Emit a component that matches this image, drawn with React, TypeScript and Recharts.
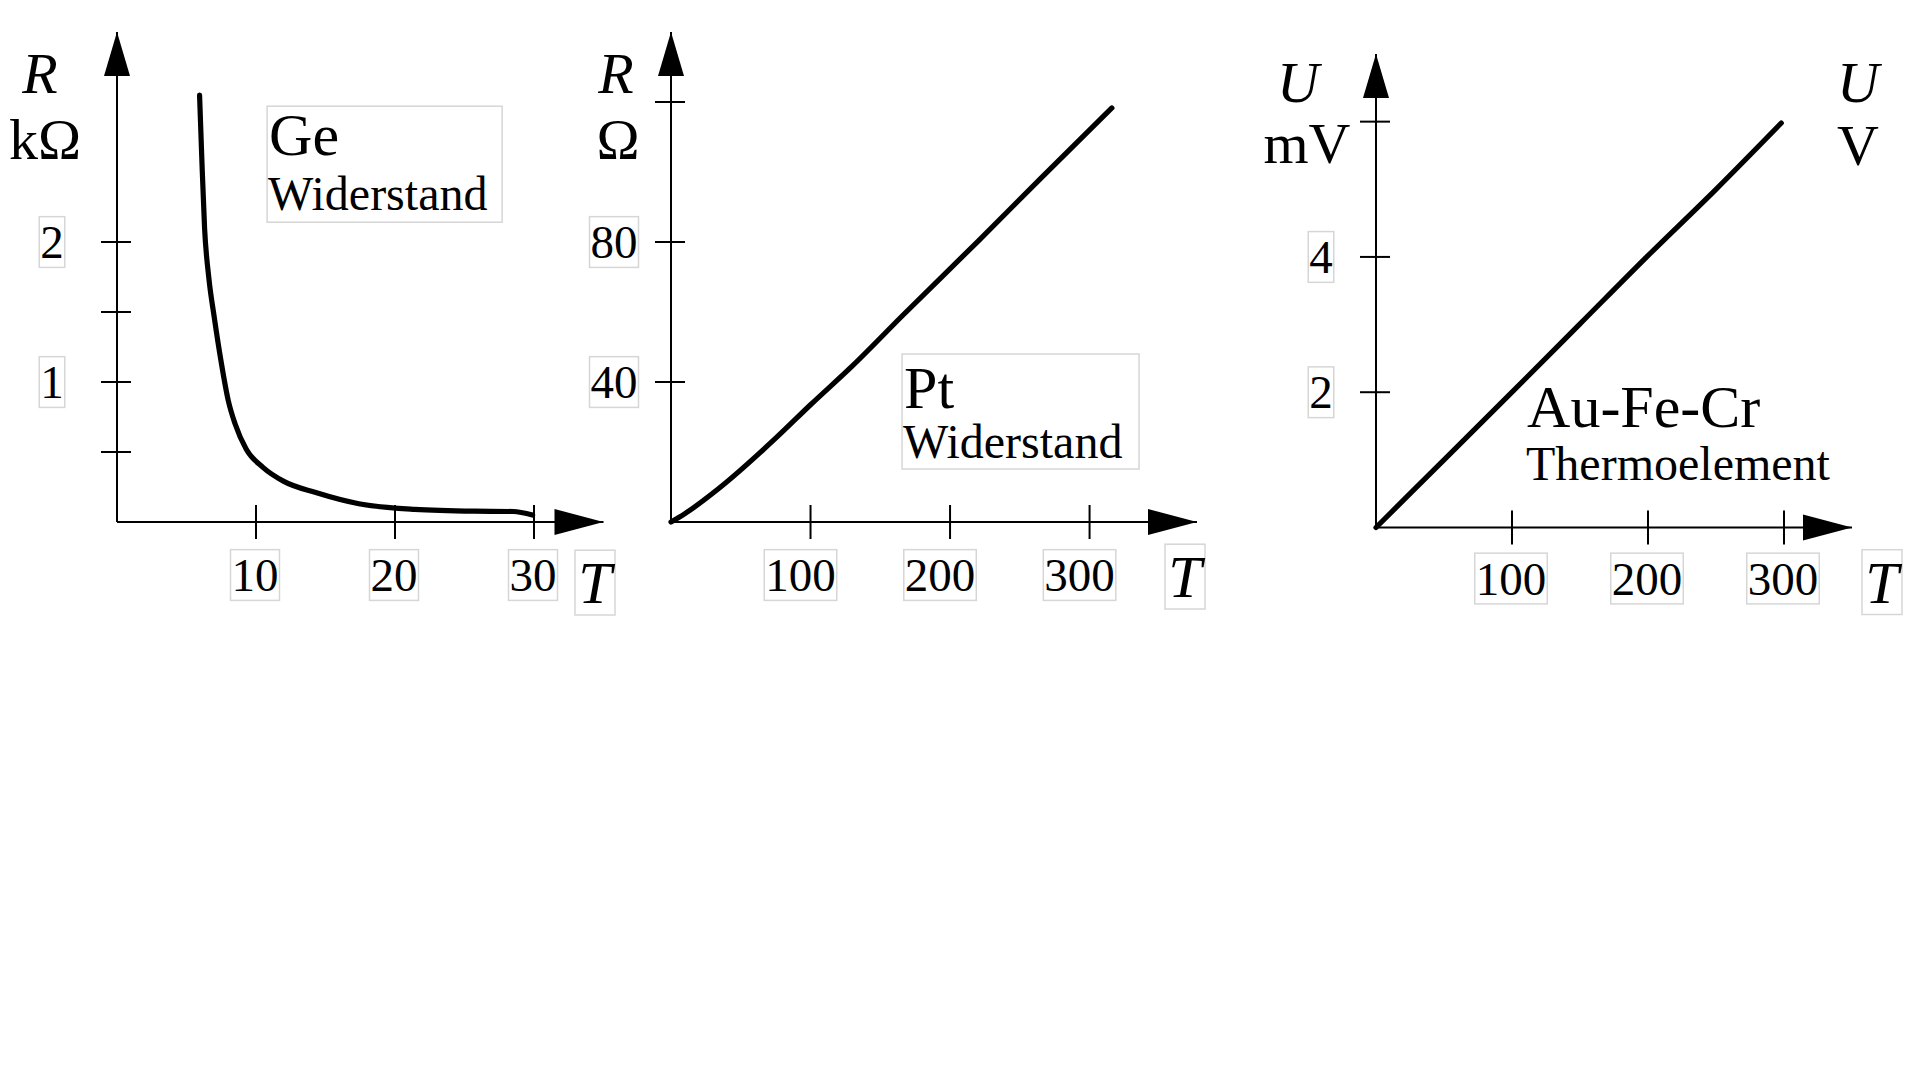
import React from "react";
import { LineChart, Line, XAxis, YAxis, ReferenceDot } from "recharts";

const SERIF = '"Liberation Serif", "Times New Roman", serif';
const BOX = "#d6d6d6";
const BIG = 58;
const SMALL = 48;
const TICK = 47;

// Ge resistor: R in kΩ against T
const geT = [5.94, 6.1, 6.3, 6.6, 7.0, 7.5, 8.0, 8.5, 9.3, 10.5, 12, 14.3, 17.4, 21.4, 25.7, 28.5, 29.9];
const geR = [3.05, 2.6, 2.1, 1.75, 1.46, 1.14, 0.87, 0.7, 0.52, 0.39, 0.29, 0.21, 0.13, 0.09, 0.077, 0.075, 0.05];
const geXTicks = [10, 20, 30];
const geYTicks = [0.5, 1, 1.5, 2];
const geYLabels = [1, 2];

// Pt resistor: R in Ω against T
const ptT = [0, 10, 34, 76, 100, 130, 166, 220, 265, 316];
const ptR = [0, 2.4, 9.5, 24.3, 33.5, 44.6, 59, 80.2, 98.2, 118.3];
const ptXTicks = [100, 200, 300];
const ptYTicks = [40, 80, 120];
const ptYLabels = [40, 80];

// Au-Fe-Cr thermocouple: U in mV against T (right scale in V)
const auT = [0, 50, 100, 150, 200, 250, 298];
const auU = [0, 1.0, 2.0, 3.01, 4.02, 5.0, 5.98];
const auXTicks = [100, 200, 300];
const auYTicks = [2, 4, 6];
const auYLabels = [2, 4];
const auVTicks = [1, 2];

const geData = geT.map((T, i) => ({ T, R: geR[i] }));
const ptData = ptT.map((T, i) => ({ T, R: ptR[i] }));
const auData = auT.map((T, i) => ({ T, U: auU[i] }));

function BoxedText({ cx, y, text, size, italic = false, width }: any) {
	const w = width ?? text.length * size * 0.5 + 2;
	return (
		<g>
			<rect
				x={cx - w / 2}
				y={y - size * 0.88}
				width={w}
				height={size * 1.08}
				fill="none"
				stroke={BOX}
				strokeWidth={1.5}
			/>
			<text
				x={cx}
				y={y}
				textAnchor="middle"
				fontFamily={SERIF}
				fontSize={size}
				fontStyle={italic ? "italic" : "normal"}
				fill="#000"
			>
				{text}
			</text>
		</g>
	);
}

const yTick = (labels: number[], dx: number) => (p: any) => {
	const v = p.payload.value;
	return (
		<g>
			<line x1={p.x - 16} x2={p.x + 14} y1={p.y} y2={p.y} stroke="#000" strokeWidth={2} />
			{labels.includes(v) && <BoxedText cx={p.x + dx} y={p.y + 16} text={String(v)} size={TICK} />}
		</g>
	);
};

const xTick = (dx: number, dy: number) => (p: any) => (
	<g>
		<line x1={p.x} x2={p.x} y1={p.y - 17} y2={p.y + 17} stroke="#000" strokeWidth={2} />
		<BoxedText cx={p.x + dx} y={p.y + dy} text={String(p.payload.value)} size={TICK} />
	</g>
);

const vTick = (p: any) => <BoxedText cx={p.x + 6} y={p.y + 16} text={String(p.payload.value)} size={TICK} />;

const upArrow = (p: any) => (
	<polygon points={`${p.cx},${p.cy} ${p.cx - 13},${p.cy + 44} ${p.cx + 13},${p.cy + 44}`} fill="#000" />
);
const rightArrow = (p: any) => (
	<polygon points={`${p.cx},${p.cy} ${p.cx - 49},${p.cy - 13} ${p.cx - 49},${p.cy + 13}`} fill="#000" />
);

// axis titles: quantity (italic) over unit
const yTitle = (sym: string, unit: string, right: boolean, d1: number, y1: number, d2: number, y2: number) => ({
	content: (p: any) => {
		const ax = right ? p.viewBox.x : p.viewBox.x + p.viewBox.width;
		return (
			<g>
				<text x={ax + d1} y={y1} textAnchor="middle" fontFamily={SERIF} fontSize={BIG} fontStyle="italic" fill="#000">
					{sym}
				</text>
				<text x={ax + d2} y={y2} textAnchor="middle" fontFamily={SERIF} fontSize={BIG} fill="#000">
					{unit}
				</text>
			</g>
		);
	},
});

const xTitle = (dx: number, dy: number) => ({
	content: (p: any) => (
		<BoxedText cx={p.viewBox.x + p.viewBox.width + dx} y={p.viewBox.y + dy} text="T" size={60} italic width={40} />
	),
});

const note = (title: string, sub: string, box: boolean, w: number, h: number, d1: number, d2: number) => (p: any) => (
	<g>
		{box && <rect x={p.cx} y={p.cy} width={w} height={h} fill="none" stroke={BOX} strokeWidth={1.5} />}
		<text x={p.cx + 2} y={p.cy + d1} fontFamily={SERIF} fontSize={BIG + 2} fill="#000">
			{title}
		</text>
		<text x={p.cx + 1} y={p.cy + d2} fontFamily={SERIF} fontSize={SMALL} fill="#000">
			{sub}
		</text>
	</g>
);

const axisLine = { stroke: "#000", strokeWidth: 2 };
const CURVE = 5.2;

export default function App() {
	return (
		<div style={{ position: "absolute", left: 0, top: 0, width: 1920, height: 1080, background: "#fff" }}>
			<div style={{ position: "absolute", left: 0, top: 0 }}>
				<LineChart width={620} height={640} data={geData} margin={{ top: 32, right: 16.5, bottom: 18, left: 7 }}>
					<XAxis
						dataKey="T"
						type="number"
						domain={[0, 35]}
						ticks={geXTicks}
						interval={0}
						height={100}
						axisLine={axisLine}
						tickLine={false}
						tickSize={0}
						tickMargin={0}
						tick={xTick(-1, 69)}
						label={xTitle(-8.5, 81)}
					/>
					<YAxis
						type="number"
						domain={[0, 3.5]}
						ticks={geYTicks}
						interval={0}
						width={110}
						axisLine={axisLine}
						tickLine={false}
						tickSize={0}
						tickMargin={0}
						tick={yTick(geYLabels, -65)}
						label={yTitle("R", "kΩ", false, -77, 93, -72, 159)}
					/>
					<Line
						dataKey="R"
						type="monotone"
						stroke="#000"
						strokeWidth={CURVE}
						strokeLinecap="round"
						dot={false}
						activeDot={false}
						isAnimationActive={false}
					/>
					<ReferenceDot x={0} y={3.5} shape={upArrow} />
					<ReferenceDot x={35} y={0} shape={rightArrow} />
					<ReferenceDot x={10.8} y={2.97} shape={note("Ge", "Widerstand", true, 235, 116, 49, 104)} />
				</LineChart>
			</div>

			<div style={{ position: "absolute", left: 560, top: 0 }}>
				<LineChart width={670} height={640} data={ptData} margin={{ top: 32, right: 33, bottom: 18, left: 11 }}>
					<XAxis
						dataKey="T"
						type="number"
						domain={[0, 377]}
						ticks={ptXTicks}
						interval={0}
						height={100}
						axisLine={axisLine}
						tickLine={false}
						tickSize={0}
						tickMargin={0}
						tick={xTick(-10, 69)}
						label={xTitle(-12, 75)}
					/>
					<YAxis
						type="number"
						domain={[0, 140]}
						ticks={ptYTicks}
						interval={0}
						width={100}
						axisLine={axisLine}
						tickLine={false}
						tickSize={0}
						tickMargin={0}
						tick={yTick(ptYLabels, -57)}
						label={yTitle("R", "Ω", false, -55, 93, -53, 159)}
					/>
					<Line
						dataKey="R"
						type="monotone"
						stroke="#000"
						strokeWidth={CURVE}
						strokeLinecap="round"
						dot={false}
						activeDot={false}
						isAnimationActive={false}
					/>
					<ReferenceDot x={0} y={140} shape={upArrow} />
					<ReferenceDot x={377} y={0} shape={rightArrow} />
					<ReferenceDot x={165.6} y={48} shape={note("Pt", "Widerstand", true, 237, 115, 54, 104)} />
				</LineChart>
			</div>

			<div style={{ position: "absolute", left: 1240, top: 0 }}>
				<LineChart width={680} height={640} data={auData} margin={{ top: 54, right: 8, bottom: 12.5, left: 16 }}>
					<XAxis
						dataKey="T"
						type="number"
						domain={[0, 350]}
						ticks={auXTicks}
						interval={0}
						height={100}
						axisLine={axisLine}
						tickLine={false}
						tickSize={0}
						tickMargin={0}
						tick={xTick(-1, 67)}
						label={xTitle(30, 75)}
					/>
					<YAxis
						yAxisId="mV"
						type="number"
						domain={[0, 7]}
						ticks={auYTicks}
						interval={0}
						width={120}
						axisLine={axisLine}
						tickLine={false}
						tickSize={0}
						tickMargin={0}
						tick={yTick(auYLabels, -55)}
						label={yTitle("U", "mV", false, -78, 102, -69, 163)}
					/>
					<YAxis
						yAxisId="V"
						orientation="right"
						type="number"
						domain={[0, 3.5]}
						ticks={auVTicks}
						interval={0}
						width={60}
						axisLine={false}
						tickLine={false}
						tickSize={0}
						tickMargin={0}
						tick={vTick}
						label={yTitle("U", "V", true, 6, 102, 6, 165)}
					/>
					<Line
						yAxisId="mV"
						dataKey="U"
						type="monotone"
						stroke="#000"
						strokeWidth={CURVE}
						strokeLinecap="round"
						dot={false}
						activeDot={false}
						isAnimationActive={false}
					/>
					<ReferenceDot yAxisId="mV" x={0} y={7} shape={upArrow} />
					<ReferenceDot yAxisId="mV" x={350} y={0} shape={rightArrow} />
					<ReferenceDot
						yAxisId="mV"
						x={109.6}
						y={1.486}
						shape={note("Au-Fe-Cr", "Thermoelement", false, 0, 0, 0, 53)}
					/>
				</LineChart>
			</div>
		</div>
	);
}
